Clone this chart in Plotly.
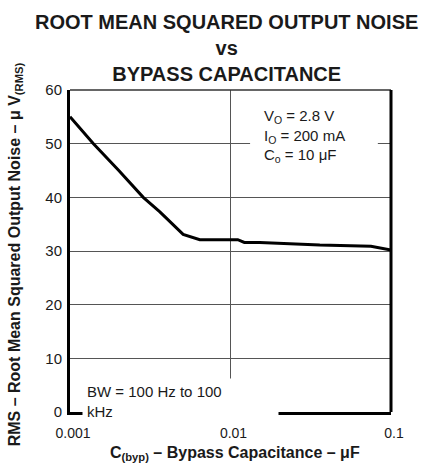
import plotly.graph_objects as go

# Data
cap_uF = [0.001, 0.0014, 0.002, 0.00286, 0.00363, 0.00507, 0.00644, 0.0111, 0.0122, 0.0152, 0.036, 0.075, 0.1]
noise_uV = [55.0, 50.0, 45.1, 40.0, 37.3, 33.1, 32.1, 32.1, 31.6, 31.6, 31.1, 30.9, 30.2]

x_tick_vals = [0.001, 0.01, 0.1]
x_tick_text = ["0.001", "0.01", "0.1"]
y_tick_vals = [0, 10, 20, 30, 40, 50, 60]

FONT = "Liberation Sans, Arial, Helvetica, sans-serif"
INK = "#1a1a1a"
GRID = "#555555"

fig = go.Figure()
fig.add_trace(go.Scatter(
    x=cap_uF, y=noise_uV, mode="lines",
    line=dict(color="black", width=3),
    hoverinfo="skip", showlegend=False,
))

fig.update_layout(
    width=429, height=466,
    margin=dict(l=70, r=38, t=90, b=54),
    paper_bgcolor="white", plot_bgcolor="white",
    font=dict(family=FONT, size=15, color=INK),
    showlegend=False,
    xaxis=dict(
        type="log", range=[-3, -1],
        tickvals=x_tick_vals, ticktext=x_tick_text,
        showgrid=True, gridcolor=GRID, gridwidth=1,
        showline=True, linecolor="black", linewidth=3,
        ticks="outside", ticklen=6, tickcolor="rgba(0,0,0,0)",
        ticklabelshift=3,
        tickfont=dict(size=14, color=INK),
        zeroline=False, fixedrange=True,
    ),
    yaxis=dict(
        range=[0, 60], tickvals=y_tick_vals,
        showgrid=True, gridcolor=GRID, gridwidth=1,
        showline=True, linecolor="black", linewidth=3,
        ticks="outside", ticklen=2, tickcolor="rgba(0,0,0,0)",
        tickfont=dict(size=15, color=INK),
        zeroline=False, fixedrange=True,
    ),
    shapes=[
        # white patch behind the conditions text (hides the 50 gridline there)
        dict(type="rect", xref="paper", yref="paper", x0=0.561, x1=0.959, y0=0.751, y1=0.955,
             fillcolor="white", line=dict(width=0), layer="above"),
        dict(type="line", xref="paper", yref="paper", x0=0, x1=1, y0=1, y1=1,
             line=dict(color="#333333", width=1.5)),
        dict(type="line", xref="paper", yref="paper", x0=1, x1=1, y0=0, y1=1,
             line=dict(color="black", width=3)),
    ],
    annotations=[
        dict(text="<b>ROOT MEAN SQUARED OUTPUT NOISE<br>vs<br>BYPASS CAPACITANCE</b>",
             xref="paper", yref="paper", x=0.489, y=1.129,
             xanchor="center", yanchor="middle", showarrow=False,
             font=dict(size=20, color=INK, family=FONT)),
        dict(text="<b>C<sub>(byp)</sub> – Bypass Capacitance – μF</b>",
             xref="paper", yref="paper", x=0.514, y=-0.129,
             xanchor="center", yanchor="middle", showarrow=False,
             font=dict(size=16, color=INK, family=FONT)),
        dict(text="<b>RMS – Root Mean Squared Output Noise – μ V<sub>(RMS)</sub></b>",
             xref="paper", yref="paper", x=-0.171, y=0.49, textangle=-90,
             xanchor="center", yanchor="middle", showarrow=False,
             font=dict(size=16, color=INK, family=FONT)),
        dict(text="V<sub>O</sub> = 2.8 V<br>I<sub>O</sub> = 200 mA<br>C<sub>o</sub> = 10 μF",
             xref="paper", yref="paper", x=0.598, y=0.857,
             xanchor="left", yanchor="middle", showarrow=False, align="left",
             font=dict(size=15, color=INK, family=FONT)),
        dict(text="BW = 100 Hz to 100<br>kHz",
             xref="paper", yref="paper", x=0.0374, y=0.033,
             xanchor="left", yanchor="middle", showarrow=False, align="left",
             width=187, bgcolor="white", borderpad=4,
             font=dict(size=15, color=INK, family=FONT)),
    ],
)

fig.write_html("out.html", config={"displayModeBar": False},
               post_script="document.body.style.margin='0';")
